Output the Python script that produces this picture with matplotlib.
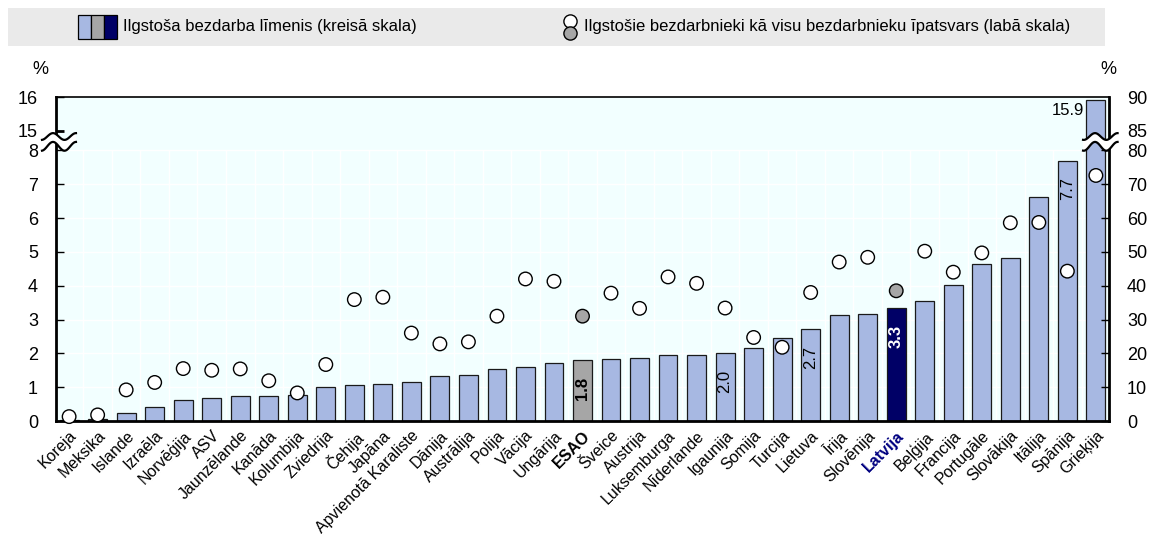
import numpy as np
import matplotlib
matplotlib.use("Agg")
import matplotlib.pyplot as plt
from matplotlib.patches import Rectangle, Polygon
from matplotlib.lines import Line2D

plt.rcParams['font.family'] = ['Liberation Sans', 'DejaVu Sans']

countries = ["Koreja", "Meksika", "Islande", "Izraēla", "Norvēģija", "ASV", "Jaunzēlande",
             "Kanāda", "Kolumbija", "Zviedrija", "Čehija", "Japāna", "Apvienotā Karaliste",
             "Dānija", "Austrālija", "Polija", "Vācija", "Ungārija", "ESAO", "Šveice",
             "Austrija", "Luksemburga", "Nīderlande", "Igaunija", "Somija", "Turcija",
             "Lietuva", "Īrija", "Slovēnija", "Latvija", "Beļģija", "Francija", "Portugāle",
             "Slovākija", "Itālija", "Spānija", "Grieķija"]

# ilgstošā bezdarba līmenis, % (kreisā skala)
rate = [0.02, 0.05, 0.23, 0.41, 0.62, 0.69, 0.73, 0.75, 0.77, 1.00, 1.05, 1.10, 1.16,
        1.32, 1.35, 1.54, 1.59, 1.72, 1.81, 1.84, 1.86, 1.94, 1.95, 2.01, 2.15, 2.44,
        2.72, 3.13, 3.15, 3.34, 3.55, 4.02, 4.65, 4.83, 6.62, 7.70, 15.9]

# ilgstošie bezdarbnieki, % no visiem bezdarbniekiem (labā skala)
share = [1.3, 1.8, 9.2, 11.4, 15.5, 15.0, 15.4, 11.9, 8.3, 16.7, 35.9, 36.6, 26.0,
         22.8, 23.4, 31.0, 42.0, 41.3, 31.0, 37.8, 33.3, 42.6, 40.7, 33.4, 24.7, 21.8,
         38.0, 47.0, 48.4, 38.5, 50.2, 44.0, 49.7, 58.6, 58.7, 44.3, 72.6]

labelled = ["ESAO", "Igaunija", "Lietuva", "Latvija", "Spānija", "Grieķija"]

left_ticks = [0, 1, 2, 3, 4, 5, 6, 7, 8, 15, 16]
right_ticks = [0, 10, 20, 30, 40, 50, 60, 70, 80, 85, 90]

BLUE = '#A7B8E2'
GREY = '#A6A6A6'
NAVY = '#000066'

BREAK_LO, BREAK_HI, GAP = 8, 15, 0.58
R_LO, R_HI = 80, 85   # right axis break, 85..90 lines up with 15..16


def fold(v):
    # broken left axis: 0..8 as is, 15..16 sits just above a small gap
    v = np.asarray(v, dtype=float)
    return np.where(v > BREAK_LO, v - BREAK_HI + BREAK_LO + GAP, v)


def rfold(v):
    v = np.asarray(v, dtype=float)
    upper = 10 * (BREAK_LO + GAP + (v - R_HI) / 5)
    return np.where(v > R_LO, upper, v)


W, H = 1149, 536
fig = plt.figure(figsize=(W / 100, H / 100), dpi=100)
ax = fig.add_axes([56 / W, 1 - 421 / H, (1109 - 56) / W, (421 - 97) / H])
ax.set_facecolor('#F2FFFF')

n = len(countries)
x = np.arange(n)
ax.set_xlim(-0.46, n - 0.54)
ax.set_ylim(0, fold(16))

# white grid only in the lower part
ax.hlines(range(1, BREAK_LO + 1), -0.46, n - 0.54, color='white', lw=1, zorder=0.5)
ax.vlines(x[:-1] + 0.5, 0, BREAK_LO, color='white', lw=1, zorder=0.5)

colors = [GREY if c == "ESAO" else NAVY if c == "Latvija" else BLUE for c in countries]
ax.bar(x, fold(rate), width=0.66, color=colors, edgecolor='#1a1a1a', linewidth=0.9, zorder=2)

for name in labelled:
    i = countries.index(name)
    v = rate[i]
    if v > BREAK_HI:
        ax.annotate(f"{v:.1f}", (i - 0.36, fold(v)), xytext=(-1, -2), textcoords='offset points',
                    ha='right', va='top', fontsize=12)
    else:
        bold = name in ("ESAO", "Latvija")
        ax.annotate(f"{v:.1f}", (i, fold(v)), xytext=(0, -12), textcoords='offset points',
                    ha='center', va='top', rotation=90, fontsize=12,
                    color='white' if name == "Latvija" else 'black',
                    fontweight='bold' if bold else 'normal')

ax.set_yticks(fold(left_ticks))
ax.set_yticklabels([str(t) for t in left_ticks])
ax.tick_params(axis='y', direction='in', length=6, width=1, pad=13, labelsize=13)
yt = ax.yaxis.get_major_ticks()
yt[-2].tick1line.set_color('#C0504D')
yt[-2].tick1line.set_markeredgewidth(2)
yt[-1].tick1line.set_visible(False)

ax.set_xticks(x)
ax.set_xticklabels(countries, rotation=45, ha='right', rotation_mode='anchor', fontsize=11.5)
ax.tick_params(axis='x', length=0, pad=5)
for lab in ax.get_xticklabels():
    if lab.get_text() == "ESAO":
        lab.set_fontweight('bold')
    elif lab.get_text() == "Latvija":
        lab.set_fontweight('bold')
        lab.set_color('#000080')

for side, sp in ax.spines.items():
    sp.set_color('black')
    sp.set_linewidth(1.2 if side == 'top' else 2)

ax2 = ax.twinx()
ax2.set_ylim(0, float(rfold(90)))
ax2.scatter(x, rfold(share), s=95,
            c=[GREY if c in ("ESAO", "Latvija") else 'white' for c in countries],
            edgecolors='black', linewidths=1, zorder=3, clip_on=False)
ax2.set_yticks(rfold(right_ticks))
ax2.set_yticklabels([str(t) for t in right_ticks])
ax2.tick_params(axis='y', direction='in', length=6, width=1, pad=13, labelsize=13)
for t in ax2.yaxis.get_major_ticks()[-2:]:
    t.tick2line.set_visible(False)
for sp in ax2.spines.values():
    sp.set_visible(False)


def add_break(x0, x1, xpeak, period):
    xs = np.linspace(x0, x1, 80)
    ph = np.cos(2 * np.pi * (xs - xpeak) / period)
    top = BREAK_LO + 0.71 * GAP + 0.10 * ph
    bot = BREAK_LO + 0.21 * GAP + 0.13 * ph
    pts = np.column_stack([np.r_[xs, xs[::-1]], np.r_[top, bot[::-1]]])
    fig.add_artist(Polygon(pts, closed=True, facecolor='white', edgecolor='none',
                           transform=ax.transData))
    for yy in (top, bot):
        fig.add_artist(Line2D(xs, yy, color='black', lw=1.6, transform=ax.transData))


add_break(-0.95, 0.24, -0.565, 0.806)
add_break(35.55, 36.76, 35.97, 0.79)

fig.text(40 / W, 1 - 70 / H, '%', ha='center', va='center', fontsize=13)
fig.text(1108 / W, 1 - 70 / H, '%', ha='center', va='center', fontsize=13)

# legend strip
fig.add_artist(Rectangle((8 / W, 1 - 46 / H), (1105 - 8) / W, 38 / H, transform=fig.transFigure,
                         facecolor='#EAEAEA', edgecolor='none'))
for k, col in enumerate([BLUE, GREY, NAVY]):
    fig.add_artist(Rectangle(((78 + 13 * k) / W, 1 - 39 / H), 13 / W, 24 / H,
                             transform=fig.transFigure, facecolor=col, edgecolor='black', lw=0.9))
fig.text(123 / W, 1 - 27 / H, 'Ilgstoša bezdarba līmenis (kreisā skala)',
         ha='left', va='center', fontsize=12)
fig.add_artist(Line2D([570 / W], [1 - 21 / H], marker='o', ms=9.5, mfc='white', mec='black',
                      mew=1, transform=fig.transFigure))
fig.add_artist(Line2D([570 / W], [1 - 33 / H], marker='o', ms=9.5, mfc=GREY, mec='black',
                      mew=1, transform=fig.transFigure))
fig.text(584 / W, 1 - 27 / H, 'Ilgstošie bezdarbnieki kā visu bezdarbnieku īpatsvars (labā skala)',
         ha='left', va='center', fontsize=12)

fig.savefig('out.png', dpi=100)
